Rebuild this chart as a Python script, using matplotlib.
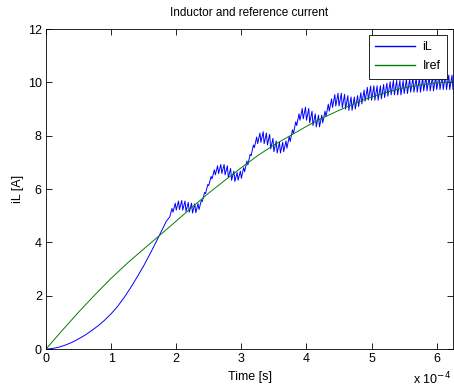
import matplotlib
matplotlib.use("Agg")
import matplotlib.pyplot as plt
import numpy as np

# time axis in units of 1e-4 s
# smooth start-up of the inductor current (before switching ripple)
iL_start_t = [0.0, 0.05, 0.1, 0.2, 0.3, 0.4, 0.5, 0.6, 0.7, 0.8, 0.9, 1.0,
              1.1, 1.2, 1.3, 1.4, 1.5, 1.6, 1.7, 1.8, 1.85]
iL_start_v = [0.0, 0.005, 0.02, 0.07, 0.15, 0.25, 0.38, 0.52, 0.69, 0.87, 1.08, 1.32,
              1.60, 1.93, 2.30, 2.70, 3.12, 3.58, 4.06, 4.55, 4.80]

# switching ripple: one high / low value per switching cycle
ripple_t0 = 1.90
ripple_period = 0.05
iL_hi = [5.27, 5.47, 5.55, 5.57, 5.55, 5.50, 5.47, 5.44, 5.45, 5.57,
         5.87, 6.17, 6.47, 6.72, 6.87, 6.92, 6.92, 6.87, 6.77, 6.67,
         6.62, 6.67, 6.80, 7.05, 7.30, 7.65, 7.95, 8.10, 8.15, 8.10,
         8.05, 7.90, 7.80, 7.75, 7.75, 7.80, 7.97, 8.22, 8.52, 8.82,
         9.02, 9.07, 9.02, 8.92, 8.82, 8.77, 8.77, 8.92, 9.18, 9.38,
         9.54, 9.59, 9.59, 9.55, 9.50, 9.45, 9.45, 9.50, 9.61, 9.71,
         9.81, 9.86, 9.87, 9.87, 9.87, 9.92, 9.97, 10.02, 10.07, 10.07,
         10.07, 10.07, 10.12, 10.12, 10.17, 10.17, 10.17, 10.17, 10.22, 10.22,
         10.22, 10.22, 10.27, 10.27, 10.27, 10.27, 10.27, 10.27]
iL_lo = [4.95, 5.13, 5.21, 5.23, 5.21, 5.16, 5.13, 5.10, 5.11, 5.23,
         5.53, 5.83, 6.13, 6.38, 6.53, 6.58, 6.58, 6.53, 6.43, 6.33,
         6.28, 6.33, 6.40, 6.65, 6.90, 7.25, 7.55, 7.70, 7.75, 7.70,
         7.65, 7.50, 7.40, 7.35, 7.35, 7.40, 7.53, 7.78, 8.08, 8.38,
         8.58, 8.63, 8.58, 8.48, 8.38, 8.33, 8.33, 8.48, 8.72, 8.92,
         9.06, 9.11, 9.11, 9.05, 9.00, 8.95, 8.95, 9.00, 9.09, 9.19,
         9.29, 9.34, 9.33, 9.33, 9.33, 9.38, 9.43, 9.48, 9.53, 9.53,
         9.53, 9.53, 9.58, 9.58, 9.63, 9.63, 9.63, 9.63, 9.68, 9.68,
         9.68, 9.68, 9.73, 9.73, 9.73, 9.73, 9.73, 9.73]

# reference current
iref_t = [0.0, 0.25, 0.5, 0.75, 1.0, 1.25, 1.5, 1.75, 2.0, 2.25, 2.5, 2.75, 3.0,
          3.25, 3.5, 3.75, 4.0, 4.25, 4.5, 4.75, 5.0, 5.25, 5.5, 5.75, 6.0, 6.25]
iref_v = [0.0, 0.70, 1.38, 2.03, 2.65, 3.22, 3.75, 4.27, 4.80, 5.33, 5.85, 6.33, 6.80,
          7.25, 7.65, 8.00, 8.35, 8.67, 8.95, 9.22, 9.45, 9.64, 9.80, 9.90, 9.98, 10.02]

# build the rippled part: rise to the high value, then fall to the low value
rip_t, rip_v = [], []
for k, (hi, lo) in enumerate(zip(iL_hi, iL_lo)):
    t = ripple_t0 + k * ripple_period
    rip_t += [t, t + 0.7 * ripple_period]
    rip_v += [lo, hi]
iL_t = np.array(iL_start_t + rip_t)
iL_v = np.array(iL_start_v + rip_v)

plt.rcParams["font.family"] = ["Liberation Sans", "DejaVu Sans"]
plt.rcParams["font.size"] = 9

fig = plt.figure(figsize=(4.54, 3.89), dpi=100)
ax = fig.add_axes([46 / 454, 1 - 349 / 389, 407 / 454, 320 / 389])

ax.plot(iL_t, iL_v, color="#0000ff", lw=0.7, label="iL")
ax.plot(iref_t, iref_v, color="#008000", lw=0.7, label="Iref")

ax.set_xlim(0, 6.25)
ax.set_ylim(0, 12)
ax.set_xticks(range(0, 7))
ax.set_yticks(range(0, 13, 2))
ax.tick_params(direction="in", length=4, width=0.6, top=True, right=True, pad=3)
for s in ax.spines.values():
    s.set_linewidth(0.6)

ax.set_title("Inductor and reference current", fontsize=8.5, pad=9)
ax.set_xlabel("Time [s]", labelpad=4)
ax.set_ylabel("iL [A]", labelpad=3)
ax.text(0.995, -0.11, "x 10$^{-4}$", transform=ax.transAxes, ha="right",
        va="baseline", fontsize=9)

leg = ax.legend(loc="upper right", fancybox=False, framealpha=1, edgecolor="black",
                borderaxespad=0.5, handlelength=3.2, fontsize=9, borderpad=0.5,
                labelspacing=0.55, handletextpad=0.6)
leg.get_frame().set_linewidth(0.6)
for line in leg.get_lines():
    line.set_linewidth(1.0)

fig.savefig("out.png", dpi=100)
